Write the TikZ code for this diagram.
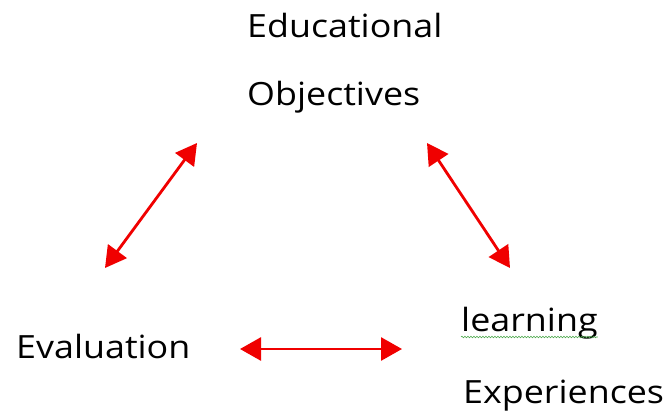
\documentclass[tikz,border=0pt]{standalone}
\usepackage{fontspec}
\setmainfont{Open Sans}[FakeStretch=1.12]
\usepackage{xcolor}
\usepackage{tikz}
\usetikzlibrary{arrows.meta,decorations.pathmorphing}

\definecolor{arrowred}{RGB}{240,0,0}
\definecolor{spellgreen}{RGB}{80,170,80}

\begin{document}
\begin{tikzpicture}[x=1pt,y=-1pt,
    label/.style={anchor=base west,inner sep=0pt,font=\fontsize{32}{36}\selectfont},
    link/.style={{Triangle[length=21pt,width=23pt]}-{Triangle[length=21pt,width=23pt]},line width=2.8pt,arrowred}]
\useasboundingbox (0,0) rectangle (666,410);

% Labels
\node[label] (edu) at (247,37) {Educational};
\node[label] (obj) at (247,105) {Objectives};
\node[label] (eval) at (16,358) {Evaluation};
\node[label] (learn) at (461,331) {learning};
\node[label] (exp) at (463,403) {Experiences};

% Spell check mark
\draw[spellgreen,line width=0.6pt,decorate,decoration={snake,amplitude=0.8pt,segment length=3pt}]
    ([yshift=-6pt]learn.base west) -- ([yshift=-6pt]learn.base east);

% Arrow ends
\coordinate (objL) at (197,143);
\coordinate (objR) at (427,143);
\coordinate (evalT) at (105,268);
\coordinate (evalR) at (240,349);
\coordinate (expL) at (402,349);
\coordinate (expT) at (510,268);

% Arrows
\draw[link] (evalT) -- (objL);
\draw[link] (objR) -- (expT);
\draw[link] (evalR) -- (expL);
\end{tikzpicture}
\end{document}
